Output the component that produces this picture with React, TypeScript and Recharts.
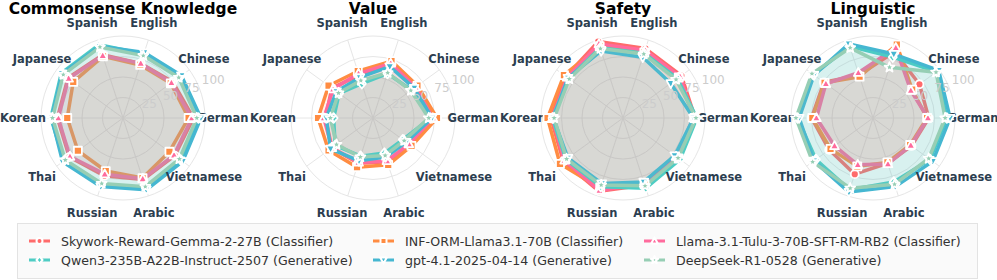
import React from "react";
import { RadarChart, Radar, PolarGrid, PolarAngleAxis, PolarRadiusAxis } from "recharts";

const languages = ["English", "Chinese", "German", "Vietnamese", "Arabic", "Russian", "Thai", "Korean", "Japanese", "Spanish"];
const panelTitles = ["Commonsense Knowledge", "Value", "Safety", "Linguistic"];
const modelKeys = ["skywork", "inf", "llama", "qwen", "gpt", "deepseek"];
const modelNames = [
  "Skywork-Reward-Gemma-2-27B (Classifier)",
  "INF-ORM-Llama3.1-70B (Classifier)",
  "Llama-3.1-Tulu-3-70B-SFT-RM-RB2 (Classifier)",
  "Qwen3-235B-A22B-Instruct-2507 (Generative)",
  "gpt-4.1-2025-04-14 (Generative)",
  "DeepSeek-R1-0528 (Generative)",
];
const radiusTicks = [0, 25, 50, 75, 100];

const commonsense = {
  skywork: [70, 75, 86, 78, 79, 74, 81, 80, 83, 81],
  inf: [68, 72, 80, 70, 77, 68, 68, 68, 75, 79],
  llama: [70, 73, 84, 77, 78, 72, 80, 79, 82, 80],
  qwen: [82, 86, 92, 87, 90, 86, 89, 88, 93, 94],
  gpt: [84, 88, 95, 90, 92, 88, 91, 87, 92, 92],
  deepseek: [80, 84, 90, 85, 88, 84, 87, 86, 90, 91],
};
const value = {
  skywork: [70, 64, 74, 55, 56, 58, 62, 58, 62, 55],
  inf: [73, 67, 78, 58, 60, 63, 67, 67, 67, 60],
  llama: [70, 64, 73, 54, 55, 57, 62, 60, 60, 57],
  qwen: [57, 58, 70, 45, 45, 49, 57, 48, 51, 44],
  gpt: [66, 62, 72, 50, 50, 55, 64, 57, 55, 52],
  deepseek: [58, 57, 68, 47, 48, 50, 55, 52, 52, 48],
};
const safety = {
  skywork: [89, 88, 88, 82, 86, 94, 90, 88, 86, 98],
  inf: [84, 84, 87, 84, 85, 90, 95, 92, 89, 92],
  llama: [87, 86, 86, 80, 84, 93, 88, 86, 84, 95],
  qwen: [83, 82, 90, 86, 90, 88, 86, 86, 82, 90],
  gpt: [78, 72, 86, 78, 82, 84, 83, 85, 83, 86],
  deepseek: [82, 80, 89, 83, 87, 86, 85, 84, 81, 89],
};
const linguistic = {
  skywork: [85, 70, 68, 58, 58, 72, 66, 75, 74, 55],
  inf: [94, 59, 66, 56, 57, 62, 64, 74, 73, 53],
  llama: [90, 57, 67, 57, 59, 60, 58, 69, 71, 58],
  qwen: [78, 96, 90, 86, 82, 92, 86, 92, 90, 92],
  gpt: [82, 99, 94, 90, 88, 95, 89, 90, 89, 95],
  deepseek: [65, 95, 88, 84, 85, 90, 91, 94, 92, 90],
};
const panels = [commonsense, value, safety, linguistic];

const colors = ["#FF6B6B", "#FF8C42", "#FF6B9D", "#4ECDC4", "#45B7D1", "#96CEB4"];
const shapes = ["circle", "square", "triangle-up", "diamond", "triangle-down", "star"];

const CX = 123;
const CY = 118;
const R = 82;
const FONT = "DejaVu Sans, sans-serif";

function Marker({ shape, x, y, color, size, sw }: any) {
  const h = size / 2;
  const common = { fill: color, stroke: "#fff", strokeWidth: sw, strokeLinejoin: "round" as const };
  if (shape === "circle") return <circle cx={x} cy={y} r={h} {...common} />;
  if (shape === "square") return <rect x={x - h} y={y - h} width={size} height={size} {...common} />;
  if (shape === "triangle-up")
    return <polygon points={`${x},${y - h * 1.2} ${x + h * 1.1},${y + h * 0.8} ${x - h * 1.1},${y + h * 0.8}`} {...common} />;
  if (shape === "triangle-down")
    return <polygon points={`${x},${y + h * 1.2} ${x + h * 1.1},${y - h * 0.8} ${x - h * 1.1},${y - h * 0.8}`} {...common} />;
  if (shape === "diamond")
    return <polygon points={`${x},${y - h * 1.2} ${x + h},${y} ${x},${y + h * 1.2} ${x - h},${y}`} {...common} />;
  const pts: string[] = [];
  for (let i = 0; i < 10; i++) {
    const rr = i % 2 === 0 ? h * 1.3 : h * 0.55;
    const a = -Math.PI / 2 + (i * Math.PI) / 5;
    pts.push(`${x + rr * Math.cos(a)},${y + rr * Math.sin(a)}`);
  }
  return <polygon points={pts.join(" ")} {...common} />;
}

function AngleTick(props: any) {
  const label = props.payload?.value;
  const i = languages.indexOf(label);
  const a = ((72 - 36 * i) * Math.PI) / 180;
  return (
    <text
      x={CX + 100 * Math.cos(a)}
      y={CY - 100 * Math.sin(a)}
      textAnchor="middle"
      dominantBaseline="central"
      fontFamily={FONT}
      fontWeight="bold"
      fontSize={11.5}
      fill="#2c3e50"
    >
      {label}
    </text>
  );
}

function RadiusTick(props: any) {
  const v = props.payload?.value;
  if (!v) return <g />;
  const r = (v / 100) * R;
  return (
    <text
      x={CX + 5 + 1.04 * r}
      y={CY - 6 - 0.39 * r}
      textAnchor="middle"
      dominantBaseline="central"
      fontFamily={FONT}
      fontSize={12}
      fill="#cccccc"
    >
      {v}
    </text>
  );
}

function Panel({ data }: { data: any }) {
  const rows = languages.map((lang, i) => {
    const row: any = { lang };
    modelKeys.forEach((k) => (row[k] = data[k][i]));
    return row;
  });
  return (
    <RadarChart width={250} height={222} data={rows} cx={CX} cy={CY} outerRadius={R} startAngle={72} endAngle={-288}>
      <PolarGrid gridType="circle" stroke="#e6e6e6" />
      <PolarAngleAxis dataKey="lang" tick={<AngleTick />} tickLine={false} axisLine={false} />
      <PolarRadiusAxis angle={18} domain={[0, 100]} tickCount={radiusTicks.length} tick={<RadiusTick />} axisLine={false} tickLine={false} />
      {modelKeys.map((k, m) => (
        <Radar
          key={k}
          dataKey={k}
          name={modelNames[m]}
          stroke={colors[m]}
          strokeWidth={3.5}
          strokeLinejoin="round"
          fill={colors[m]}
          fillOpacity={0.09}
          isAnimationActive={false}
          dot={(p: any) => (
            <Marker key={`${k}-${p.index}`} shape={shapes[m]} x={p.cx} y={p.cy} color={colors[m]} size={8} sw={1.8} />
          )}
        />
      ))}
    </RadarChart>
  );
}

const legendCols = [29, 373, 644];
const legendRows = [241, 260];

export default function App() {
  return (
    <div style={{ position: "absolute", left: 0, top: 0, width: 997, height: 280, background: "#fff", overflow: "hidden" }}>
      <svg width={997} height={280} style={{ position: "absolute", left: 0, top: 0 }}>
        {panelTitles.map((t, i) => (
          <text key={t} x={CX + 250 * i} y={13.5} textAnchor="middle" fontFamily={FONT} fontWeight="bold" fontSize={15.5} fill="#000">
            {t}
          </text>
        ))}
        <rect x={17.5} y={223.5} width={960} height={55} fill="#fafafa" stroke="#e3e3e3" strokeWidth={1} />
        {modelNames.map((n, m) => {
          const x = legendCols[m % 3];
          const y = legendRows[Math.floor(m / 3)];
          return (
            <g key={n}>
              <line x1={x} x2={x + 21} y1={y} y2={y} stroke={colors[m]} strokeWidth={3} />
              <Marker shape={shapes[m]} x={x + 10.5} y={y} color={colors[m]} size={6} sw={2} />
              <text x={x + 32} y={y} dominantBaseline="central" fontFamily={FONT} fontSize={12.6} fill="#333">
                {n}
              </text>
            </g>
          );
        })}
      </svg>
      {panels.map((p, i) => (
        <div key={i} style={{ position: "absolute", left: 250 * i, top: 0 }}>
          <Panel data={p} />
        </div>
      ))}
    </div>
  );
}
